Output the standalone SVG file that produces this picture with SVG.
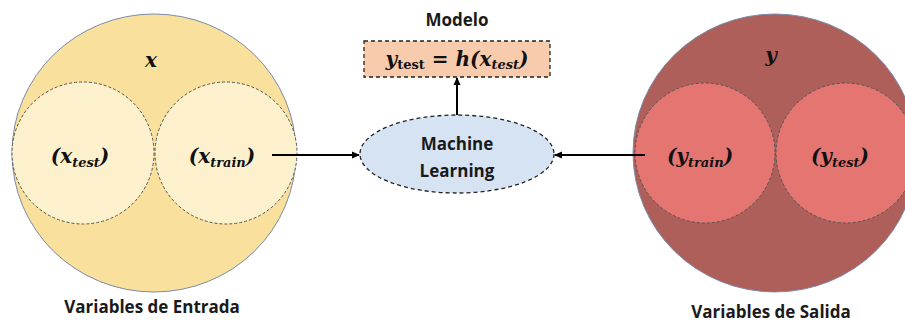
<svg xmlns="http://www.w3.org/2000/svg" width="905" height="322" viewBox="0 0 905 322">
<style>
.lbl{font-family:"Open Sans","Liberation Sans",sans-serif;font-weight:bold;font-size:17px;fill:#1a1a1a;text-anchor:middle}
.math{font-family:"DejaVu Serif","Liberation Serif",serif;font-weight:bold;font-style:italic;font-size:20px;fill:#111;text-anchor:middle}
.up{font-style:normal}
.inner{stroke:#555;stroke-width:1;stroke-dasharray:3 2}
.conn{stroke:#000;stroke-width:2;fill:none}
</style>
<defs>
<marker id="ah" markerWidth="8" markerHeight="8" refX="7" refY="4" orient="auto" markerUnits="userSpaceOnUse">
<path d="M0,0.5 L8,4 L0,7.5 Z" fill="#000"/>
</marker>
</defs>
<g id="entrada">
<ellipse cx="154" cy="153" rx="142" ry="139" fill="#f9e09c" stroke="#7a8aa8" stroke-width="1"/>
<text class="math" x="151" y="67">x</text>
<circle cx="83" cy="153" r="71" fill="#fcf0cd" class="inner"/>
<circle cx="226" cy="153" r="71" fill="#fcf0cd" class="inner"/>
<text class="math" x="80" y="163">(x<tspan font-size="13" dy="4">test</tspan><tspan dy="-4">)</tspan></text>
<text class="math" x="222" y="163">(x<tspan font-size="13" dy="4">train</tspan><tspan dy="-4">)</tspan></text>
<text class="lbl" x="152" y="313">Variables de Entrada</text>
</g>
<g id="salida">
<ellipse cx="775" cy="153" rx="142" ry="139" fill="#af5f5a" stroke="#7a8aa8" stroke-width="1"/>
<text class="math" x="771" y="62">y</text>
<circle cx="705" cy="153" r="70" fill="#e47571" class="inner"/>
<circle cx="846" cy="153" r="70" fill="#e47571" class="inner"/>
<text class="math" x="700" y="163">(y<tspan font-size="13" dy="4">train</tspan><tspan dy="-4">)</tspan></text>
<text class="math" x="840" y="163">(y<tspan font-size="13" dy="4">test</tspan><tspan dy="-4">)</tspan></text>
<text class="lbl" x="771" y="318">Variables de Salida</text>
</g>
<g id="ml">
<ellipse cx="457" cy="154" rx="97" ry="39" fill="#d6e3f3" stroke="#222" stroke-width="1.3" stroke-dasharray="4 3"/>
<text class="lbl" x="457" y="150">Machine</text>
<text class="lbl" x="457" y="177">Learning</text>
</g>
<g id="modelo">
<text class="lbl" x="457" y="26">Modelo</text>
<rect x="364" y="41" width="186" height="36" fill="#f8cbad" stroke="#222" stroke-width="1.3" stroke-dasharray="4 3"/>
<text class="math" x="457" y="66">y<tspan class="up" font-size="13" dy="3">test</tspan><tspan class="up" dy="-3"> = </tspan>h(x<tspan font-size="13" dy="3">test</tspan><tspan dy="-3">)</tspan></text>
</g>
<g id="connectors">
<line class="conn" x1="272" y1="155" x2="359" y2="155" marker-end="url(#ah)"/>
<line class="conn" x1="645" y1="155" x2="555" y2="155" marker-end="url(#ah)"/>
<line class="conn" x1="457" y1="115" x2="457" y2="78" marker-end="url(#ah)"/>
</g>
</svg>
